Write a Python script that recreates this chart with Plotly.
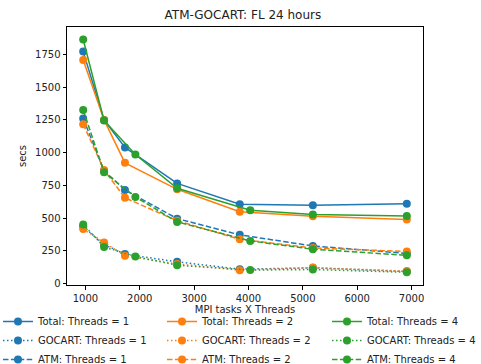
import plotly.graph_objects as go

x_t1 = [960, 1344, 1728, 2688, 3840, 5184, 6912]
x_t2 = [960, 1344, 1728, 2688, 3840, 5184, 6912]
x_t4 = [960, 1344, 1920, 2688, 4032, 5184, 6912]

total_t1 = [1772, 1250, 1040, 765, 606, 599, 610]
total_t2 = [1708, 1250, 922, 720, 548, 515, 490]
total_t4 = [1865, 1245, 986, 728, 560, 527, 516]

gocart_t1 = [436, 298, 225, 166, 110, 120, 92]
gocart_t2 = [416, 313, 212, 150, 102, 122, 95]
gocart_t4 = [452, 280, 206, 140, 103, 107, 86]

atm_t1 = [1261, 862, 715, 496, 372, 287, 230]
atm_t2 = [1218, 867, 655, 480, 338, 272, 245]
atm_t4 = [1325, 850, 662, 471, 326, 262, 216]

threads = [1, 2, 4]
colors = ["#1f77b4", "#ff7f0e", "#2ca02c"]
xs = [x_t1, x_t2, x_t4]
legend_ids = ["legend", "legend2", "legend3"]

groups = [
    ("Total", [total_t1, total_t2, total_t4], "solid"),
    ("GOCART", [gocart_t1, gocart_t2, gocart_t4], "1.5px,2.5px"),
    ("ATM", [atm_t1, atm_t2, atm_t4], "5.5px,2.4px"),
]

fig = go.Figure()
for name, series, dash in groups:
    for th, col, xv, yv, lg in zip(threads, colors, xs, series, legend_ids):
        fig.add_trace(go.Scatter(
            x=xv, y=yv, mode="lines+markers",
            name=f"{name}: Threads = {th}",
            legend=lg,
            line=dict(color=col, width=1.5, dash=dash),
            marker=dict(color=col, size=8, symbol="circle"),
        ))

axis_common = dict(
    showline=True, linecolor="black", linewidth=1, mirror=True,
    ticks="outside", ticklen=3.5, tickwidth=1, tickcolor="black",
    showgrid=False, zeroline=False, automargin=False,
    tickfont=dict(size=10, color="#222"),
)

W, H = 481, 364
ML, MR, MT, MB = 67, 58, 27, 79
PW, PH = W - ML - MR, H - MT - MB


def px_x(p):
    return (p - ML) / PW


def px_y(p):
    return (H - MB - p) / PH


leg_common = dict(orientation="v", xanchor="left", yanchor="top", y=px_y(307),
                  font=dict(size=10, color="#222"), tracegroupgap=0,
                  bgcolor="rgba(0,0,0,0)", itemwidth=30)

fig.update_layout(
    width=W, height=H,
    margin=dict(l=ML, r=MR, t=MT, b=MB, autoexpand=False),
    paper_bgcolor="white", plot_bgcolor="white",
    font=dict(family="DejaVu Sans", size=10, color="#222"),
    title=dict(text="ATM-GOCART: FL 24 hours", x=0.505, xanchor="center",
               y=1 - 15 / H, yanchor="middle", font=dict(size=12, color="#222")),
    xaxis=dict(range=[662, 7210], tickvals=[1000, 2000, 3000, 4000, 5000, 6000, 7000],
               title=dict(text="MPI tasks X Threads", standoff=3, font=dict(size=10)),
               **axis_common),
    yaxis=dict(range=[-11, 1960], tickvals=[0, 250, 500, 750, 1000, 1250, 1500, 1750],
               title=dict(text="secs", standoff=6, font=dict(size=10)),
               **axis_common),
    showlegend=True,
    legend=dict(x=px_x(-2), **leg_common),
    legend2=dict(x=px_x(162), **leg_common),
    legend3=dict(x=px_x(327), **leg_common),
)

fig.write_html("out.html")
